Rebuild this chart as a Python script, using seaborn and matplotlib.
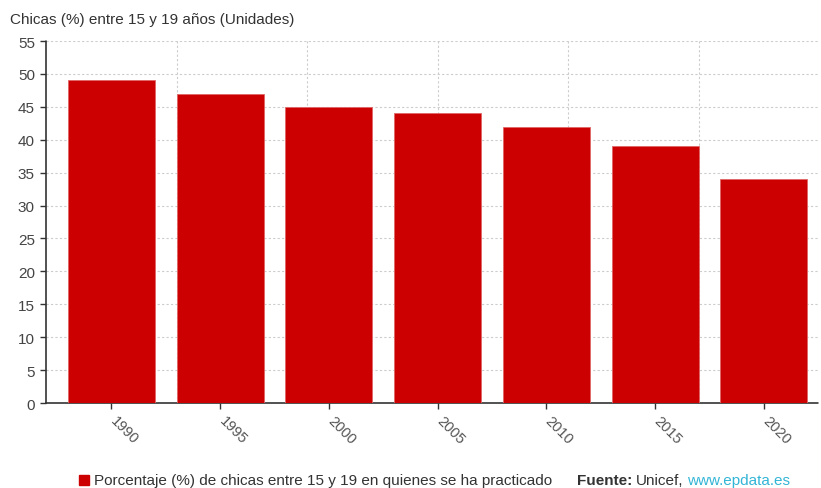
import matplotlib
matplotlib.use("Agg")
import matplotlib.pyplot as plt
import matplotlib.transforms as mtransforms
import seaborn as sns
import pandas as pd

years = ["1990", "1995", "2000", "2005", "2010", "2015", "2020"]
values = [49, 47, 45, 44, 42, 39, 34]
y_ticks = [0, 5, 10, 15, 20, 25, 30, 35, 40, 45, 50, 55]

sns.set_theme(style="white")
plt.rcParams["font.family"] = ["Liberation Sans", "DejaVu Sans"]

df = pd.DataFrame({"year": years, "value": values})

fig = plt.figure(figsize=(8.21, 4.89), dpi=100)
ax = fig.add_axes([46 / 821, 1 - 404 / 489, (818 - 46) / 821, (404 - 42) / 489])

bar_color = "#CC0000"
sns.barplot(data=df, x="year", y="value", color=bar_color, saturation=1,
            width=0.8, ax=ax, edgecolor="#e06666", linewidth=0.6, zorder=3)

ax.set_xlim(-0.602, 6.498)
ax.set_ylim(0, 55)
ax.set_yticks(y_ticks)
ax.set_yticklabels([str(t) for t in y_ticks], fontsize=11, color="#444444")

# light dotted grid
for t in y_ticks[1:]:
    ax.axhline(t, color="#cccccc", lw=0.8, ls=(0, (2, 2)), zorder=1)
for gx in [0.6, 1.8, 3.0, 4.2, 5.4]:
    ax.axvline(gx, color="#cccccc", lw=0.8, ls=(0, (2, 2)), zorder=1)

ax.set_xlabel("")
ax.set_ylabel("")
for s in ["top", "right"]:
    ax.spines[s].set_visible(False)
for s in ["left", "bottom"]:
    ax.spines[s].set_color("#333333")
    ax.spines[s].set_linewidth(1.2)
    ax.spines[s].set_linestyle((0, (1, 1)))

ax.tick_params(axis="y", left=True, length=4, width=1, color="#333333", pad=4)
ax.tick_params(axis="x", bottom=True, length=4, width=1, color="#333333", pad=4)
ax.set_xticks(range(len(years)))
ax.set_xticklabels(years, rotation=-45, ha="left", va="top",
                   rotation_mode="anchor", fontsize=10.5, color="#555555")
shift = mtransforms.ScaledTranslation(6 / 100, 1 / 100, fig.dpi_scale_trans)
for lbl in ax.get_xticklabels():
    lbl.set_transform(lbl.get_transform() + shift)

fig.text(10 / 821, 1 - 20 / 489, "Chicas (%) entre 15 y 19 años (Unidades)",
         fontsize=11, color="#333333", va="center", ha="left")

# legend and source line
ly = 1 - 481 / 489
fig.patches.append(plt.Rectangle((79 / 821, ly - 5 / 489), 10 / 821, 10 / 489,
                                 transform=fig.transFigure, color=bar_color))
fig.text(94 / 821, ly, "Porcentaje (%) de chicas entre 15 y 19 en quienes se ha practicado",
         fontsize=11, color="#333333", va="center", ha="left")
t1 = fig.text(577 / 821, ly, "Fuente:", fontsize=11, fontweight="bold",
              color="#333333", va="center", ha="left")
fig.canvas.draw()
r = fig.canvas.get_renderer()
bb = t1.get_window_extent(r)
t2 = fig.text(bb.x1 / 821 + 4 / 821, ly, "Unicef,", fontsize=11, color="#333333",
              va="center", ha="left")
bb2 = t2.get_window_extent(r)
fig.text(bb2.x1 / 821 + 3 / 821, ly, "www.epdata.es", fontsize=11, color="#33b5d6",
         va="center", ha="left")

fig.savefig("out.png", dpi=100, facecolor="white")
